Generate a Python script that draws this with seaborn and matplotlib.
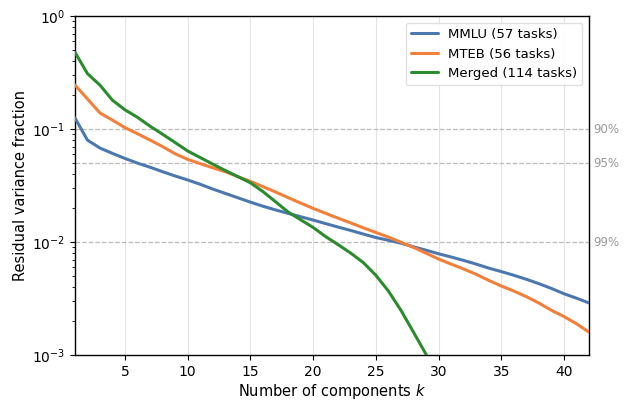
import matplotlib
matplotlib.use("Agg")
import matplotlib.pyplot as plt
import seaborn as sns
import numpy as np
import pandas as pd

K_MMLU = list(range(1, 43))
MMLU = [0.126, 0.080, 0.068, 0.061, 0.055, 0.050, 0.046, 0.042, 0.0385, 0.0355,
        0.0325, 0.0295, 0.027, 0.0247, 0.0226, 0.0208, 0.0193, 0.0180, 0.0168, 0.0157,
        0.0146, 0.0136, 0.0127, 0.0118, 0.0110, 0.0104, 0.0098, 0.0091, 0.0085, 0.0079,
        0.0074, 0.0069, 0.0064, 0.0059, 0.0055, 0.0051, 0.0047, 0.0043, 0.0039, 0.0035,
        0.0032, 0.0029]

K_MTEB = list(range(1, 43))
MTEB = [0.246, 0.185, 0.139, 0.120, 0.103, 0.091, 0.080, 0.070, 0.0605, 0.054,
        0.0495, 0.0455, 0.042, 0.038, 0.0345, 0.031, 0.0278, 0.0248, 0.0222, 0.0199,
        0.0180, 0.0163, 0.0148, 0.0134, 0.0122, 0.0111, 0.0100, 0.0090, 0.0080, 0.0071,
        0.0064, 0.0058, 0.0052, 0.0046, 0.0041, 0.0037, 0.0033, 0.0029, 0.0025, 0.0022,
        0.0019, 0.0016]

K_MERGED = list(range(1, 32))
MERGED = [0.48, 0.31, 0.245, 0.18, 0.148, 0.127, 0.106, 0.090, 0.076, 0.064,
          0.056, 0.049, 0.043, 0.038, 0.0335, 0.0280, 0.0228, 0.0185, 0.0158, 0.0135,
          0.0112, 0.0095, 0.0080, 0.0066, 0.0051, 0.0037, 0.0025, 0.0016, 0.00102, 0.0006,
          0.00035]

SERIES = ["MMLU (57 tasks)", "MTEB (56 tasks)", "Merged (114 tasks)"]
COLORS = ["#4C78B0", "#F27F3A", "#2A8C2E"]

THRESH = [0.1, 0.05, 0.01]
THRESH_LABELS = ["90%", "95%", "99%"]

df = pd.concat([
    pd.DataFrame({"k": K_MMLU, "frac": MMLU, "series": SERIES[0]}),
    pd.DataFrame({"k": K_MTEB, "frac": MTEB, "series": SERIES[1]}),
    pd.DataFrame({"k": K_MERGED, "frac": MERGED, "series": SERIES[2]}),
])

sns.set_theme(style="ticks", rc={
    "xtick.major.size": 3.5, "ytick.major.size": 3.5,
    "xtick.minor.size": 2.0, "ytick.minor.size": 2.0,
    "xtick.major.width": 0.8, "ytick.major.width": 0.8,
    "xtick.minor.width": 0.6, "ytick.minor.width": 0.6,
    "xtick.major.pad": 3.5, "ytick.major.pad": 3.5,
    "text.color": "black", "axes.labelcolor": "black",
    "xtick.color": "black", "ytick.color": "black",
})
plt.rcParams["font.family"] = ["DejaVu Sans"]

fig = plt.figure(figsize=(6.24, 4.01), dpi=100)
ax = fig.add_axes([0.120, 0.114, 0.824, 0.846])

ax.grid(axis="x", color="#e3e3e3", linewidth=0.8)
ax.set_axisbelow(True)

for val, lab in zip(THRESH, THRESH_LABELS):
    ax.axhline(val, color="#bbbbbb", linestyle="--", linewidth=0.9, zorder=1)
    ax.text(1.008, val, lab, transform=ax.get_yaxis_transform(),
            color="#999999", fontsize=8.5, va="center", ha="left")

sns.lineplot(data=df, x="k", y="frac", hue="series", palette=COLORS,
             linewidth=2.2, ax=ax, zorder=3)

ax.set_yscale("log")
ax.set_ylim(1e-3, 1)
ax.set_xlim(1, 42)
ax.set_xticks([5, 10, 15, 20, 25, 30, 35, 40])
ax.set_xlabel("Number of components $k$", fontsize=10.5, labelpad=2)
ax.set_ylabel("Residual variance fraction", fontsize=10.5, labelpad=3)
ax.tick_params(labelsize=10)

for s in ax.spines.values():
    s.set_visible(True)
    s.set_color("black")
    s.set_linewidth(1.0)

leg = ax.legend(loc="upper right", fontsize=9.5, frameon=True, framealpha=0.9,
                handlelength=2.0)
leg.get_frame().set_edgecolor("#dddddd")

fig.savefig("out.png", dpi=100)
